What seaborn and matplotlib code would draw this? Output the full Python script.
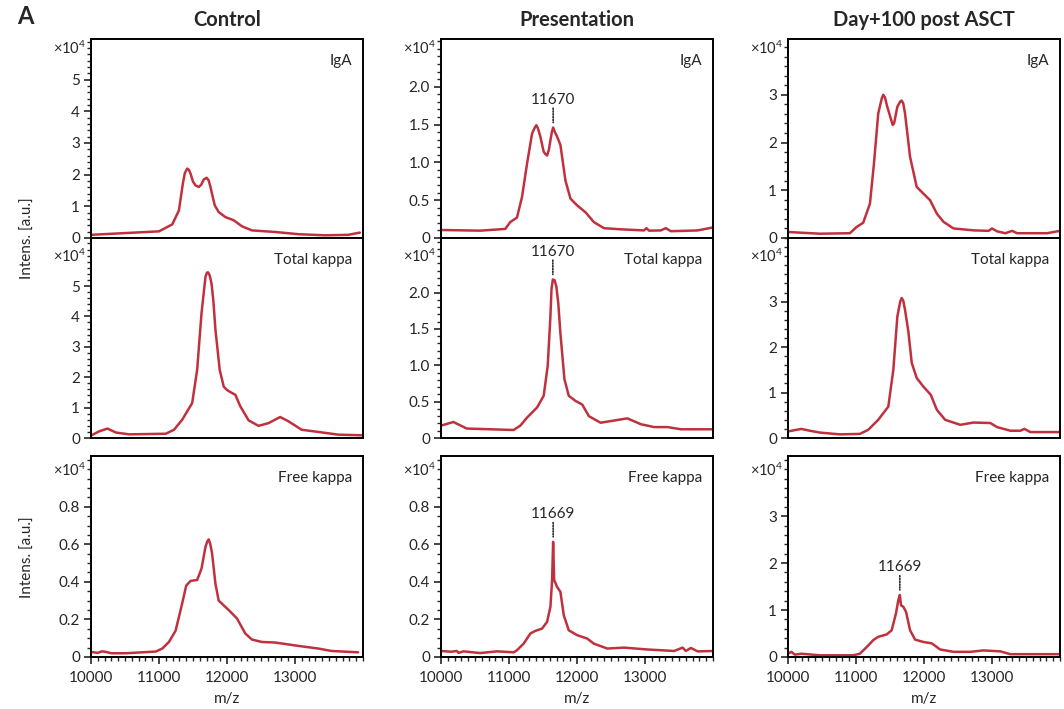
import numpy as np
import pandas as pd
import matplotlib
matplotlib.use("Agg")
import matplotlib.pyplot as plt
from matplotlib.ticker import MultipleLocator, FuncFormatter, FixedLocator
import seaborn as sns

# ---------------- data (intensity in units of 1e4) ----------------
col_titles = ["Control", "Presentation", "Day+100 post ASCT"]
row_labels = ["IgA", "Total kappa", "Free kappa"]

ctrl_iga_mz = [10000, 11000, 11195, 11293, 11351, 11380, 11415, 11440, 11464, 11500, 11537, 11585,
               11620, 11660, 11700, 11730, 11757, 11790, 11820, 11878, 11976, 12098, 12220, 12366,
               12708, 13050, 13441, 13782, 13953]
ctrl_iga_int = [0.10, 0.21, 0.43, 0.87, 1.72, 2.05, 2.19, 2.15, 2.03, 1.78, 1.66, 1.61,
                1.68, 1.85, 1.90, 1.82, 1.61, 1.30, 1.03, 0.82, 0.66, 0.56, 0.37, 0.24,
                0.19, 0.12, 0.085, 0.10, 0.17]

ctrl_tk_mz = [10000, 10121, 10243, 10366, 10561, 11098, 11220, 11341, 11488, 11561, 11625, 11684,
              11705, 11722, 11745, 11772, 11800, 11830, 11893, 11952, 12000, 12050, 12123, 12196,
              12318, 12464, 12611, 12782, 12903, 13099, 13343, 13635, 13977]
ctrl_tk_int = [0.08, 0.22, 0.31, 0.18, 0.12, 0.14, 0.27, 0.60, 1.15, 2.24, 4.10, 5.31,
               5.44, 5.45, 5.35, 5.09, 4.50, 3.56, 2.24, 1.69, 1.58, 1.51, 1.42, 1.04,
               0.58, 0.40, 0.49, 0.69, 0.55, 0.27, 0.20, 0.11, 0.09]

ctrl_fk_mz = [10000, 10100, 10160, 10220, 10300, 10512, 10952, 11049, 11146, 11244, 11341, 11400,
              11464, 11561, 11625, 11684, 11710, 11732, 11755, 11781, 11830, 11878, 12025, 12147,
              12269, 12366, 12513, 12708, 13050, 13343, 13538, 13928]
ctrl_fk_int = [0.027, 0.022, 0.030, 0.027, 0.020, 0.020, 0.029, 0.045, 0.080, 0.140, 0.285, 0.380,
               0.405, 0.410, 0.470, 0.587, 0.615, 0.626, 0.600, 0.550, 0.390, 0.300, 0.250, 0.205,
               0.125, 0.093, 0.080, 0.077, 0.059, 0.045, 0.032, 0.025]

pres_iga_mz = [10000, 10576, 10945, 11018, 11117, 11191, 11265, 11339, 11380, 11402, 11425, 11461,
               11510, 11535, 11560, 11585, 11609, 11630, 11649, 11675, 11707, 11756, 11830, 11904,
               12003, 12125, 12248, 12396, 12642, 12986, 13021, 13060, 13232, 13306, 13380, 13774,
               14000]
pres_iga_int = [0.106, 0.097, 0.12, 0.21, 0.27, 0.54, 0.98, 1.38, 1.46, 1.49, 1.45, 1.34,
                1.14, 1.11, 1.09, 1.16, 1.29, 1.40, 1.46, 1.40, 1.34, 1.23, 0.76, 0.52,
                0.43, 0.34, 0.21, 0.13, 0.115, 0.10, 0.13, 0.097, 0.10, 0.13, 0.09, 0.10,
                0.14]

pres_tk_mz = [10000, 10182, 10379, 10723, 11067, 11166, 11265, 11413, 11510, 11569, 11609, 11625,
              11645, 11670, 11697, 11725, 11756, 11815, 11879, 11978, 12077, 12175, 12347, 12544,
              12741, 12937, 13134, 13331, 13528, 14000]
pres_tk_int = [0.17, 0.22, 0.13, 0.12, 0.11, 0.17, 0.28, 0.42, 0.58, 0.99, 1.67, 2.05,
               2.18, 2.17, 2.08, 1.85, 1.44, 0.81, 0.58, 0.51, 0.46, 0.30, 0.21, 0.24,
               0.27, 0.19, 0.15, 0.15, 0.12, 0.12]

pres_fk_mz = [10000, 10150, 10231, 10260, 10330, 10576, 10822, 11070, 11117, 11215, 11314, 11387,
              11486, 11560, 11609, 11634, 11649, 11664, 11707, 11756, 11806, 11879, 12003, 12151,
              12248, 12446, 12691, 13036, 13429, 13553, 13600, 13675, 13774, 14000]
pres_fk_int = [0.032, 0.028, 0.032, 0.022, 0.030, 0.021, 0.030, 0.025, 0.036, 0.071, 0.125, 0.139,
               0.151, 0.187, 0.267, 0.41, 0.613, 0.41, 0.373, 0.347, 0.222, 0.142, 0.116, 0.098,
               0.071, 0.045, 0.050, 0.040, 0.032, 0.050, 0.032, 0.048, 0.030, 0.032]

day_iga_mz = [10000, 10467, 10910, 11008, 11106, 11205, 11264, 11327, 11380, 11401, 11425, 11460,
              11539, 11560, 11608, 11650, 11672, 11695, 11721, 11795, 11893, 11991, 12090, 12189,
              12286, 12434, 12729, 12950, 13000, 13074, 13196, 13295, 13369, 13811, 14000]
day_iga_int = [0.126, 0.09, 0.10, 0.23, 0.32, 0.72, 1.56, 2.61, 2.93, 3.00, 2.95, 2.75,
               2.37, 2.40, 2.75, 2.86, 2.88, 2.82, 2.61, 1.70, 1.07, 0.93, 0.79, 0.51,
               0.34, 0.20, 0.16, 0.15, 0.20, 0.14, 0.10, 0.15, 0.10, 0.10, 0.15]

day_tk_mz = [10000, 10197, 10320, 10467, 10762, 11057, 11180, 11327, 11475, 11549, 11608, 11650,
             11672, 11695, 11721, 11770, 11820, 11893, 11991, 12100, 12189, 12311, 12533, 12729,
             12975, 13074, 13270, 13417, 13476, 13565, 14000]
day_tk_int = [0.145, 0.20, 0.16, 0.12, 0.08, 0.09, 0.18, 0.40, 0.69, 1.50, 2.67, 3.00,
              3.08, 3.02, 2.82, 2.34, 1.65, 1.32, 1.13, 0.95, 0.62, 0.40, 0.29, 0.34,
              0.33, 0.24, 0.16, 0.16, 0.20, 0.13, 0.13]

day_fk_mz = [10000, 10049, 10100, 10197, 10467, 10959, 11057, 11156, 11254, 11327, 11451, 11525,
             11588, 11622, 11645, 11662, 11696, 11736, 11795, 11869, 11991, 12115, 12237, 12434,
             12680, 12876, 13122, 13270, 14000]
day_fk_int = [0.07, 0.11, 0.05, 0.07, 0.036, 0.036, 0.07, 0.21, 0.36, 0.43, 0.48, 0.57,
              0.93, 1.21, 1.32, 1.10, 1.07, 0.96, 0.57, 0.37, 0.32, 0.29, 0.16, 0.11,
              0.11, 0.14, 0.12, 0.06, 0.06]

# y-axis upper limits (x1e4), labelled ticks and minor steps for each panel [row][col]
y_max = [[6.28, 2.63, 4.17], [6.58, 2.75, 4.40], [1.07, 1.07, 4.28]]
y_ticks = [[[0, 1, 2, 3, 4, 5], [0, 0.5, 1.0, 1.5, 2.0], [0, 1, 2, 3]],
           [[0, 1, 2, 3, 4, 5], [0, 0.5, 1.0, 1.5, 2.0], [0, 1, 2, 3]],
           [[0, 0.2, 0.4, 0.6, 0.8], [0, 0.2, 0.4, 0.6, 0.8], [0, 1, 2, 3]]]
y_minor = [[0.2, 0.1, 0.2], [0.2, 0.1, 0.2], [0.05, 0.05, 0.2]]
x_ticks = [10000, 11000, 12000, 13000]

# peak annotations: (row, col, m/z label, m/z position)
annotations = [(0, 1, "11670", 11649), (1, 1, "11670", 11645),
               (2, 1, "11669", 11649), (2, 2, "11669", 11645)]

series = [[(ctrl_iga_mz, ctrl_iga_int), (pres_iga_mz, pres_iga_int), (day_iga_mz, day_iga_int)],
          [(ctrl_tk_mz, ctrl_tk_int), (pres_tk_mz, pres_tk_int), (day_tk_mz, day_tk_int)],
          [(ctrl_fk_mz, ctrl_fk_int), (pres_fk_mz, pres_fk_int), (day_fk_mz, day_fk_int)]]

# ---------------- style ----------------
sns.set_style("ticks")
plt.rcParams["font.family"] = ["Lato", "DejaVu Sans"]
plt.rcParams["mathtext.fontset"] = "custom"
plt.rcParams["mathtext.rm"] = "Lato"
plt.rcParams["mathtext.it"] = "Lato:italic"
plt.rcParams["mathtext.bf"] = "Lato:bold"
line_color = "#c0313e"

fig = plt.figure(figsize=(10.64, 7.09), dpi=100)
W, H = 1064, 709
col_left = [91, 441, 788]
col_w = 272
row_top = [39, 238, 456]
row_bot = [238, 438, 657]
exp_label_y = [0.955, 0.91, 0.93]


def fmt_factory(decimals):
    def f(v, pos):
        if abs(v) < 1e-9:
            return "0"
        return f"{v:.{decimals}f}"
    return f


for r in range(3):
    for c in range(3):
        ax = fig.add_axes([col_left[c] / W, 1 - row_bot[r] / H, col_w / W, (row_bot[r] - row_top[r]) / H])
        mz, inten = series[r][c]
        df = pd.DataFrame({"mz": mz, "int": inten})
        sns.lineplot(data=df, x="mz", y="int", ax=ax, color=line_color, lw=1.8, estimator=None, sort=True)
        for ln in ax.lines:
            ln.set_solid_joinstyle("round")
        ax.set_xlim(10000, 14000)
        ax.set_ylim(0, y_max[r][c])
        ax.set_xlabel("")
        ax.set_ylabel("")
        for s in ax.spines.values():
            s.set_linewidth(1.4)
            s.set_color("black")
        ticks = y_ticks[r][c]
        decimals = 0 if all(float(t).is_integer() for t in ticks) else 1
        ax.yaxis.set_major_locator(FixedLocator(ticks))
        ax.yaxis.set_minor_locator(MultipleLocator(y_minor[r][c]))
        ax.yaxis.set_major_formatter(FuncFormatter(fmt_factory(decimals)))
        ax.tick_params(axis="y", which="major", length=5, width=1.2, labelsize=11, pad=3)
        ax.tick_params(axis="y", which="minor", length=3, width=1.0)
        if r == 2:
            ax.set_xticks(x_ticks)
            ax.xaxis.set_minor_locator(MultipleLocator(100))
            ax.tick_params(axis="x", which="major", length=5, width=1.2, labelsize=11, pad=5)
            ax.tick_params(axis="x", which="minor", length=3, width=1.0)
            ax.set_xlabel("m/z", fontsize=11, labelpad=5)
        else:
            ax.set_xticks([])
            ax.xaxis.set_minor_locator(plt.NullLocator())
        ax.text(0.96, 0.89, row_labels[r], transform=ax.transAxes, ha="right", va="center", fontsize=11)
        ax.text(-0.018, exp_label_y[r], r"$\times$10$^{4}$", transform=ax.transAxes,
                ha="right", va="center", fontsize=10.5)
        if r == 0:
            ax.set_title(col_titles[c], fontsize=14.5, fontweight="bold", pad=9)
        for (ar, ac, lab, pos) in annotations:
            if ar == r and ac == c:
                peak = float(np.interp(pos, mz, inten))
                ax.annotate("", xy=(pos, peak), xytext=(0, 14), textcoords="offset points",
                            arrowprops=dict(arrowstyle="-", linestyle=(0, (1, 1)), lw=1.0, color="black",
                                            shrinkA=0, shrinkB=3.5))
                ax.annotate(lab, xy=(pos, peak), xytext=(0, 17), textcoords="offset points",
                            ha="center", va="baseline", fontsize=11)

fig.text(28 / W, 1 - 238 / H, "Intens. [a.u.]", rotation=90, ha="center", va="center", fontsize=11)
fig.text(28 / W, 1 - 557 / H, "Intens. [a.u.]", rotation=90, ha="center", va="center", fontsize=11)
fig.text(17 / W, 1 - 17 / H, "A", ha="left", va="center", fontsize=17, fontweight="bold")

fig.savefig("out.png", dpi=100)
